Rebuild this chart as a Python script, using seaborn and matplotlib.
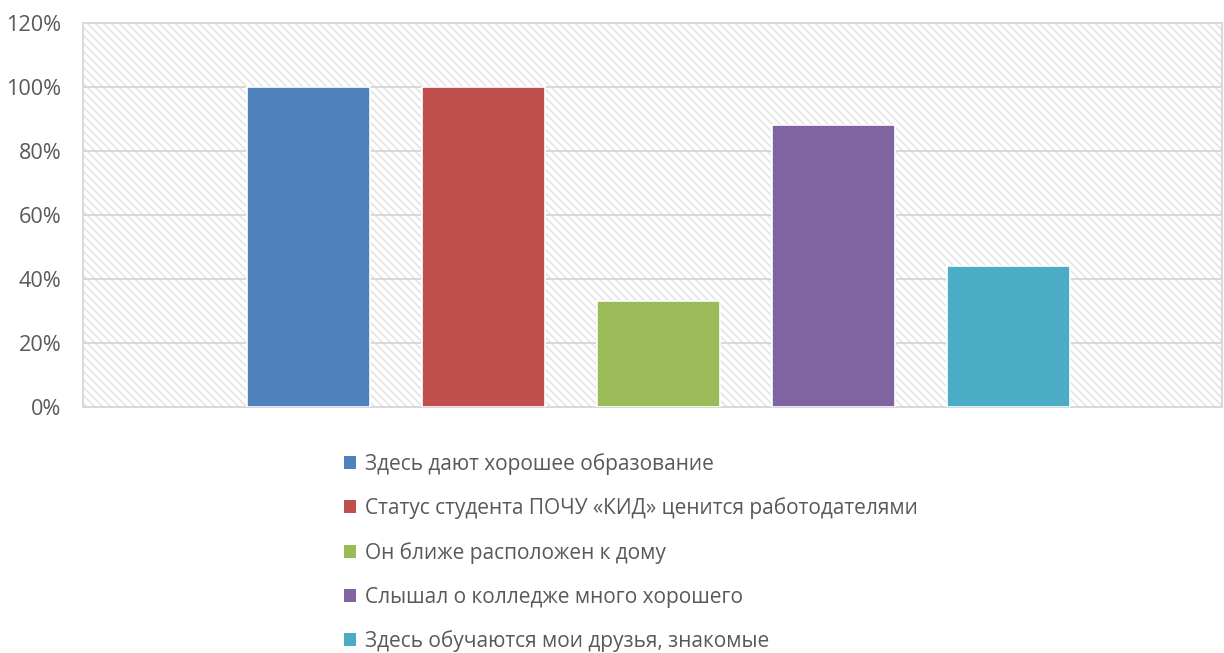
import pandas as pd
import matplotlib
matplotlib.use('Agg')
import matplotlib.pyplot as plt
from matplotlib.patches import Rectangle, Patch
from matplotlib.ticker import FuncFormatter
import seaborn as sns

# Данные
categories = [
    'Здесь дают хорошее образование',
    'Статус студента ПОЧУ «КИД» ценится работодателями',
    'Он ближе расположен к дому',
    'Слышал о колледже много хорошего',
    'Здесь обучаются мои друзья, знакомые',
]
values = [100, 100, 33, 88, 44]
colors = ['#4F81BD', '#C0504D', '#9BBB59', '#8064A2', '#4BACC6']
y_ticks = [0, 20, 40, 60, 80, 100, 120]

df = pd.DataFrame({'cat': categories, 'val': values})

sns.set_style('white')
plt.rcParams['font.family'] = ['Open Sans', 'DejaVu Sans']
plt.rcParams['hatch.linewidth'] = 0.9

fig = plt.figure(figsize=(10.2, 653 / 120), dpi=120)
ax = fig.add_axes([83 / 1224, 1 - 407 / 653, (1222 - 83) / 1224, (407 - 23) / 653])

# фон с диагональной штриховкой
ax.add_patch(Rectangle((0, 0), 1, 1, transform=ax.transAxes, facecolor='white',
                       edgecolor='#E2E2E2', hatch='\\' * 5, lw=0, zorder=0))

sns.barplot(data=df, x='cat', y='val', hue='cat', palette=colors, width=0.7,
            legend=False, saturation=1, ax=ax, zorder=3)

ax.set_xlim(-1.29, 5.22)
ax.set_ylim(0, 120)
ax.set_yticks(y_ticks)
ax.yaxis.set_major_formatter(FuncFormatter(lambda v, p: f'{int(v)}%'))
ax.set_xticks([])
ax.set_xlabel('')
ax.set_ylabel('')
ax.tick_params(axis='y', labelsize=13, labelcolor='#595959', length=0, pad=13)
ax.grid(axis='y', color='#D9D9D9', lw=1.2, zorder=1)
ax.set_axisbelow(True)
for s in ax.spines.values():
    s.set_color('#D9D9D9')
    s.set_linewidth(1.2)

handles = [Patch(facecolor=c, edgecolor='none') for c in colors]
fig.legend(handles, categories, loc='upper left', bbox_to_anchor=(325 / 1224, 1 - 434 / 653),
           frameon=False, fontsize=12.5, labelcolor='#595959', handlelength=0.6,
           handleheight=0.6, handletextpad=0.4, labelspacing=1.09)

fig.savefig('out.png', dpi=120)
